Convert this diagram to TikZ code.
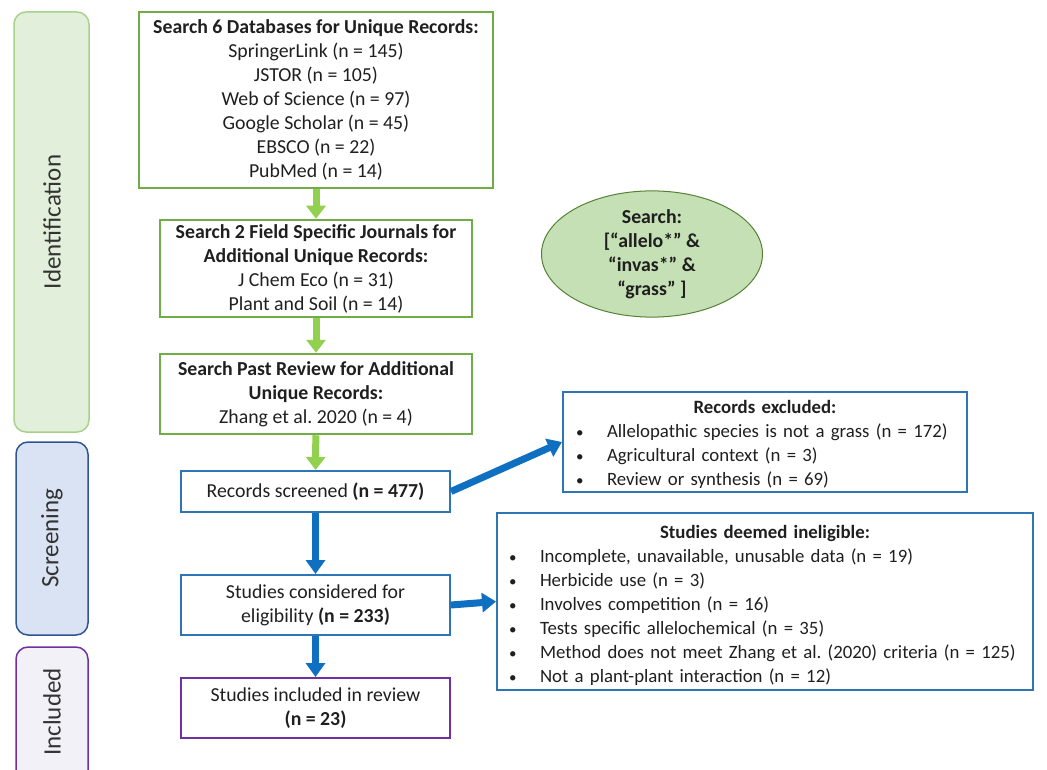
\documentclass[tikz,border=0pt]{standalone}
\usepackage{fontspec}
\setmainfont{Carlito}
\usepackage{tikz}
\usetikzlibrary{arrows.meta,shapes.geometric}
\definecolor{idfill}{HTML}{E2EFDA}
\definecolor{iddraw}{HTML}{A9D18E}
\definecolor{scfill}{HTML}{DAE3F3}
\definecolor{scdraw}{HTML}{2F5597}
\definecolor{infill}{HTML}{F2F1F8}
\definecolor{indraw}{HTML}{7030A0}
\definecolor{gbox}{HTML}{70AD47}
\definecolor{garrow}{HTML}{92D050}
\definecolor{bbox}{HTML}{2E75B6}
\definecolor{barrow}{HTML}{0F6FC0}
\definecolor{ovfill}{HTML}{C5E0B4}
\definecolor{ovdraw}{HTML}{548235}
\frenchspacing
\def\bul#1#2{\makebox[#2pt][l]{\hspace{#1pt}{\fontsize{15}{15}\selectfont\textbullet}}}

\begin{document}
\begin{tikzpicture}[x=1pt, y=-1pt,
	every node/.style={font=\fontsize{19.8}{24}\selectfont, text=black!88, inner sep=0pt},
	band/.style={rounded corners=12pt, line width=1.5pt},
	bandtext/.style={rotate=90, font=\fontsize{25}{28}\selectfont, text=black!80},
	gbx/.style={draw=gbox, line width=2.5pt, align=center},
	bbx/.style={draw=bbox, line width=2pt, align=center},
	listbox/.style={draw=bbox, line width=2pt, inner xsep=4pt, font=\fontsize{18.8}{24}\selectfont},
	gar/.style={draw=garrow, line width=7pt, -{Triangle[width=19pt,length=13pt]}},
	bar/.style={draw=barrow, line width=7pt, -{Triangle[width=19pt,length=14pt]}}]
			%%%%% START %%%%%
			\path[use as bounding box] (0, 0) rectangle (1047, 770);
			\clip (0, 0) rectangle (1047, 770);

			% side bands
			\draw[band, fill=idfill, draw=iddraw] (14, 12) rectangle (89, 432);
			\node[bandtext] (ident) at (52, 222) {Identification};
			\draw[band, fill=scfill, draw=scdraw] (16, 442) rectangle (88, 635);
			\node[bandtext] (screen) at (52, 538) {Screening};
			\draw[band, fill=infill, draw=indraw] (16, 647) rectangle (88, 790);
			\node[bandtext] (incl) at (52, 712) {Included};

			% identification boxes
			\node[gbx, minimum width=354, minimum height=176] (db) at (316, 100)
				{\textbf{Search 6 Databases for Unique Records:}\\SpringerLink (n = 145)\\JSTOR (n = 105)\\Web of Science (n = 97)\\Google Scholar (n = 45)\\EBSCO (n = 22)\\PubMed (n = 14)};
			\node[gbx, minimum width=312, minimum height=97] (jour) at (316, 268.5)
				{\textbf{Search 2 Field Specific Journals for}\\\textbf{Additional Unique Records:}\\J Chem Eco (n = 31)\\Plant and Soil (n = 14)};
			\node[gbx, minimum width=312, minimum height=80] (rev) at (316, 394)
				{\textbf{Search Past Review for Additional}\\\textbf{Unique Records:}\\Zhang et al. 2020 (n = 4)};

			\node[ellipse, fill=ovfill, draw=ovdraw, line width=1pt, minimum width=221, minimum height=109, align=center] (terms) at (652, 254)
				{\textbf{Search:}\\\textbf{[“allelo*” \&}\\\textbf{“invas*” \&}\\\textbf{“grass” ]}};

			% screening boxes
			\node[bbx, minimum width=269, minimum height=41] (scr) at (315.5, 491.5)
				{Records screened \textbf{(n = 477)}};
			\node[bbx, minimum width=269, minimum height=60] (elig) at (315.5, 605)
				{Studies considered for\\eligibility \textbf{(n = 233)}};
			\node[draw=indraw, line width=2pt, align=center, minimum width=269, minimum height=60] (inc) at (315.5, 708)
				{Studies included in review\\\textbf{(n = 23)}};

			% exclusion boxes
			\node[listbox, inner ysep=3pt, text width=396pt] (excl) at (765, 442)
				{\centering\rule{0pt}{18pt}\textbf{Records excluded:}\par\raggedright
				\bul{9}{40}Allelopathic species is not a grass (n = 172)\par
				\bul{9}{40}Agricultural context (n = 3)\par
				\bul{9}{40}Review or synthesis (n = 69)};
			\node[listbox, inner ysep=4pt, text width=528pt] (inel) at (765, 601.5)
				{\centering\rule{0pt}{21pt}\textbf{Studies deemed ineligible:}\par\raggedright
				\bul{8}{39}Incomplete, unavailable, unusable data (n = 19)\par
				\bul{8}{39}Herbicide use (n = 3)\par
				\bul{8}{39}Involves competition (n = 16)\par
				\bul{8}{39}Tests specific allelochemical (n = 35)\par
				\bul{8}{39}Method does not meet Zhang et al. (2020) criteria (n = 125)\par
				\bul{8}{39}Not a plant-plant interaction (n = 12)};

			% arrows
			\draw[gar] (db) -- (jour);
			\draw[gar] (jour) -- (rev);
			\draw[gar] (rev) -- (scr);
			\draw[bar] (scr) -- (elig);
			\draw[bar] (elig) -- (inc);
			\draw[bar] (scr.east) -- (excl.west);
			\draw[bar] (elig.east) -- (inel.west);
			%%%%% END %%%%%
\end{tikzpicture}
\end{document}
